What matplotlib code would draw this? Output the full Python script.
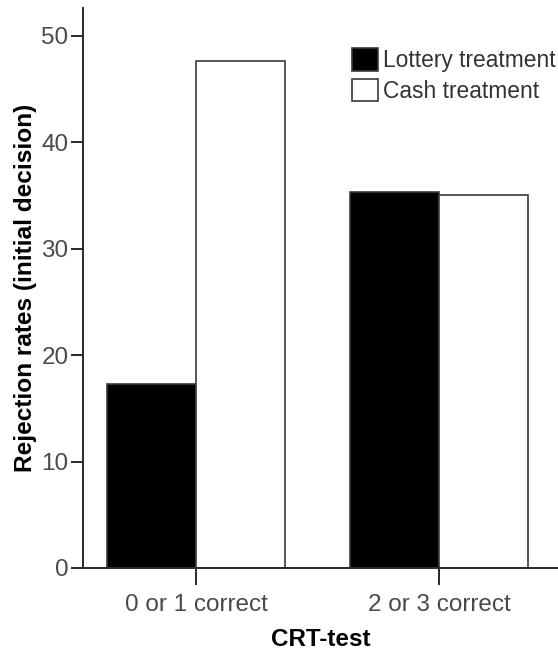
import numpy as np
import matplotlib
matplotlib.use('Agg')
import matplotlib.pyplot as plt

# data
groups = ['0 or 1 correct', '2 or 3 correct']
lottery = [17.3, 35.3]
cash = [47.6, 35.0]
series_names = ['Lottery treatment', 'Cash treatment']
yticks = [0, 10, 20, 30, 40, 50]

plt.rcParams['font.family'] = ['Liberation Sans', 'DejaVu Sans']

fig = plt.figure(figsize=(5.58, 6.52), dpi=100)
ax = fig.add_axes([83/558, 1-568/652, 1-83/558, (568-8)/652])

X = np.arange(len(groups))
w = 0.368
ax.bar(X - w/2, lottery, width=w, facecolor='black', edgecolor='#3a3a3a',
       linewidth=1.2, label=series_names[0])
ax.bar(X + w/2, cash, width=w, facecolor='white', edgecolor='#3a3a3a',
       linewidth=1.2, label=series_names[1])

ax.set_xlim(-0.465, 1.49)
ax.set_ylim(0, 52.6)
ax.set_xticks(X)
ax.set_xticklabels(groups)
ax.set_yticks(yticks)

for s in ['top', 'right']:
    ax.spines[s].set_visible(False)
for s in ['left', 'bottom']:
    ax.spines[s].set_color('#2a2a2a')
    ax.spines[s].set_linewidth(1.4)

ax.tick_params(axis='y', length=8.4, width=1.4, color='#2a2a2a', pad=2,
               labelsize=17.5, labelcolor='#4a4a4a')
ax.tick_params(axis='x', length=12, width=1.4, color='#2a2a2a', pad=7,
               labelsize=17.5, labelcolor='#4a4a4a')

ax.set_ylabel('Rejection rates (initial decision)', fontsize=17.6, fontweight='bold')
ax.yaxis.set_label_coords(-0.097, 0.5)
ax.set_xlabel('CRT-test', fontsize=17.5, fontweight='bold', labelpad=8)

leg = ax.legend(loc='upper left', bbox_to_anchor=(352/558, 1-48/652),
                bbox_transform=fig.transFigure, frameon=False, fontsize=16.4,
                handlelength=1.15, handleheight=1.15, handletextpad=0.2,
                labelspacing=0.3, borderpad=0, borderaxespad=0)
for t in leg.get_texts():
    t.set_color('#333333')

fig.savefig('out.png', dpi=100)
